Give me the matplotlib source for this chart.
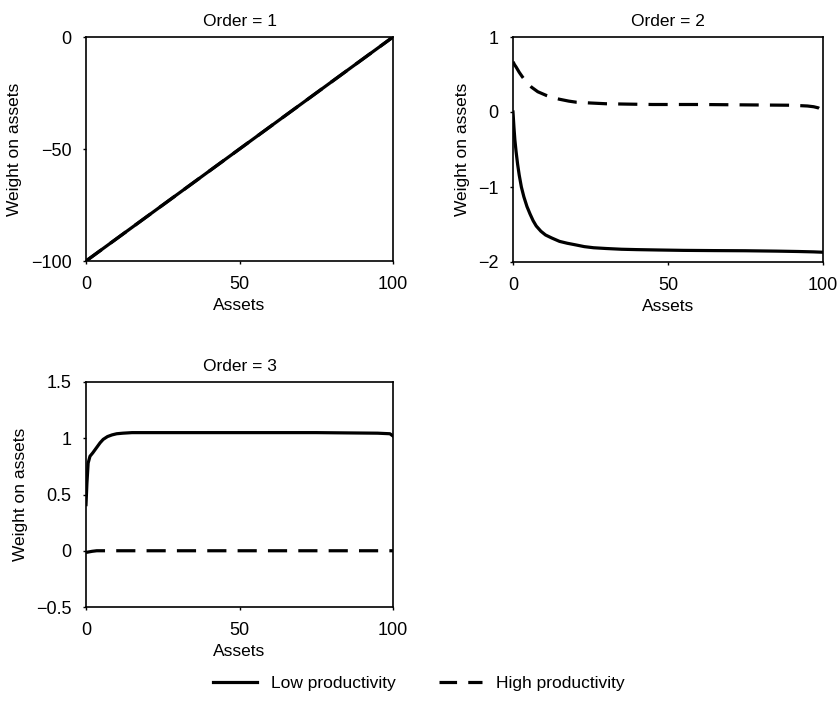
import matplotlib.pyplot as plt
import numpy as np
from matplotlib.lines import Line2D

plt.rcParams['font.family'] = ['Liberation Sans', 'DejaVu Sans']
plt.rcParams['font.size'] = 13

# Order = 1
x1 = [0, 100]
low1 = [-100, 0]
high1 = [-100, 0]

# Order = 2
x2_low = [0, 0.3, 0.6, 1, 1.5, 2, 2.7, 3.5, 4.5, 5.5, 6.5, 7.5, 9, 10.5, 12.5, 15, 17.5, 20, 23, 26, 30, 35, 40, 47, 55, 65, 75, 85, 92, 97, 100]
low2 = [0, -0.2, -0.37, -0.53, -0.7, -0.84, -1.0, -1.13, -1.26, -1.36, -1.45, -1.52, -1.59, -1.64, -1.68, -1.725, -1.75, -1.77, -1.795, -1.81, -1.82, -1.83, -1.835, -1.84, -1.845, -1.848, -1.85, -1.855, -1.86, -1.865, -1.87]
x2_high = [0, 0.5, 1, 2, 3, 4.3, 6, 8, 10.8, 13, 15, 18, 20.5, 25, 30, 37, 45, 60, 75, 90, 95, 97, 98.5, 99.5, 100]
high2 = [0.67, 0.63, 0.6, 0.53, 0.47, 0.4, 0.33, 0.27, 0.22, 0.19, 0.17, 0.145, 0.13, 0.12, 0.11, 0.105, 0.1, 0.1, 0.095, 0.09, 0.08, 0.07, 0.055, 0.03, 0.0]

# Order = 3
x3_low = [0, 0.3, 0.7, 1.3, 2.2, 3, 3.8, 4.6, 5.6, 7, 8.5, 10, 12, 15, 20, 25, 50, 75, 95, 99, 100]
low3 = [0.41, 0.6, 0.78, 0.84, 0.87, 0.9, 0.93, 0.96, 0.99, 1.015, 1.03, 1.04, 1.045, 1.05, 1.05, 1.05, 1.05, 1.05, 1.045, 1.04, 1.02]
x3_high = [0, 1, 2, 3.5, 5, 10, 50, 100]
high3 = [-0.015, -0.01, -0.005, 0.0, 0.0, 0.0, 0.0, 0.0]

titles = ['Order = 1', 'Order = 2', 'Order = 3']
yticks = [[-100, -50, 0], [-2, -1, 0, 1], [-0.5, 0, 0.5, 1, 1.5]]
yticklabels = [['\u2212100', '\u221250', '0'],
               ['\u22122', '\u22121', '0', '1'],
               ['\u22120.5', '0', '0.5', '1', '1.5']]
ylims = [(-100, 0), (-2, 1), (-0.5, 1.5)]

fig = plt.figure(figsize=(8.38, 7.14), dpi=100)
W, H = 838, 714
boxes = [(86, 37, 393, 261), (513, 37, 823, 262), (86, 382, 393, 607)]
axes = []
for (l, t, r, b) in boxes:
    axes.append(fig.add_axes([l / W, 1 - b / H, (r - l) / W, (b - t) / H]))

lw = 2.3
dash = (6, 3.5)
data = [((x1, low1), (x1, high1)),
        ((x2_low, low2), (x2_high, high2)),
        ((x3_low, low3), (x3_high, high3))]

for i, ax in enumerate(axes):
    (xl, yl), (xh, yh) = data[i]
    if i == 0:
        ax.plot(xh, yh, color='black', lw=lw, dashes=dash)
        ax.plot(xl, yl, color='black', lw=lw)
    else:
        ax.plot(xl, yl, color='black', lw=lw)
        ax.plot(xh, yh, color='black', lw=lw, dashes=dash)
    ax.set_xlim(0, 100)
    ax.set_ylim(*ylims[i])
    ax.set_xticks([0, 50, 100])
    ax.set_yticks(yticks[i])
    ax.set_yticklabels(yticklabels[i])
    ax.tick_params(direction='out', length=2.5, width=1, labelsize=13, pad=8)
    ax.set_title(titles[i], fontsize=12.5, pad=8)
    ax.set_xlabel('Assets', fontsize=12.5, labelpad=4)
    ax.set_ylabel('Weight on assets', fontsize=12.5, labelpad=6)
    for s in ax.spines.values():
        s.set_linewidth(1.2)

handles = [Line2D([], [], color='black', lw=lw),
           Line2D([], [], color='black', lw=lw, dashes=(5.5, 3.5))]
fig.legend(handles, ['Low productivity', 'High productivity'], loc='center',
           bbox_to_anchor=(0.5, 1 - 683 / H), ncol=2, frameon=False,
           fontsize=12.5, handlelength=2.5, columnspacing=2.5)

fig.savefig('out.png', dpi=100)
